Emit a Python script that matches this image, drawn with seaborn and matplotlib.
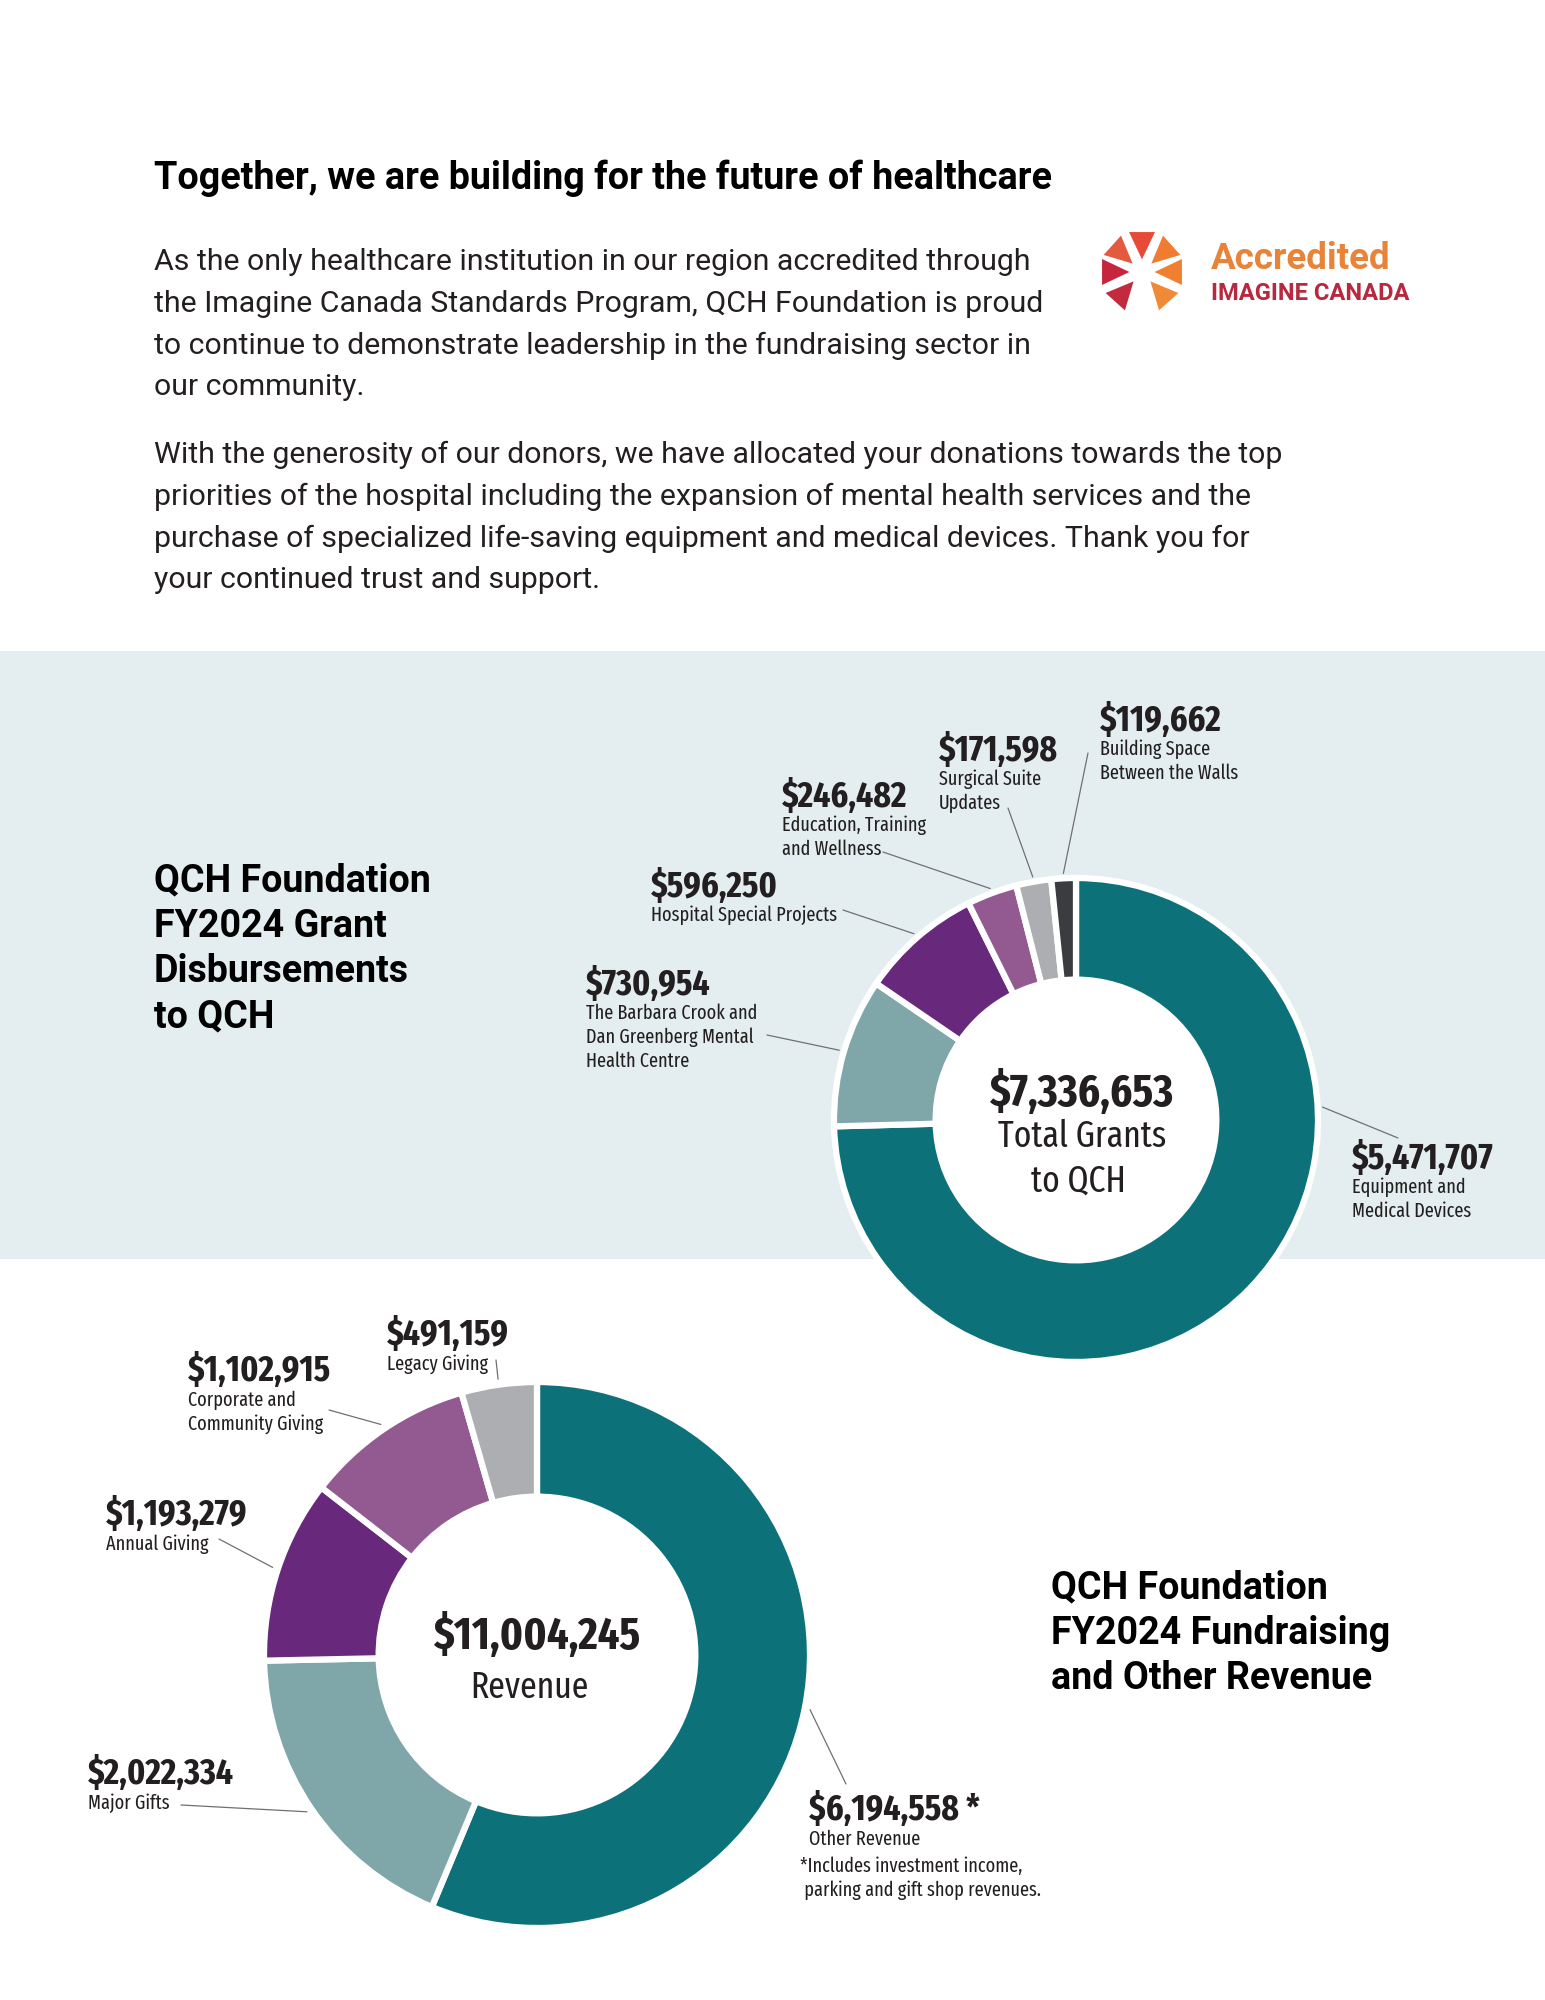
import numpy as np
import matplotlib
matplotlib.use('Agg')
import matplotlib.pyplot as plt
from matplotlib import font_manager
from matplotlib.patches import Polygon, Rectangle, Circle
import seaborn as sns

sns.set_theme(style='white')
plt.rcParams['font.family'] = ['Roboto', 'DejaVu Sans']

# ---- data ----
grant_names = ['Equipment and\nMedical Devices',
               'The Barbara Crook and\nDan Greenberg Mental\nHealth Centre',
               'Hospital Special Projects',
               'Education, Training\nand Wellness',
               'Surgical Suite\nUpdates',
               'Building Space\nBetween the Walls']
grant_values = [5471707, 730954, 596250, 246482, 171598, 119662]
grant_total = 7336653

revenue_names = ['Other Revenue', 'Major Gifts', 'Annual Giving',
                 'Corporate and\nCommunity Giving', 'Legacy Giving']
revenue_values = [6194558, 2022334, 1193279, 1102915, 491159]
revenue_marks = [' *', '', '', '', '']
revenue_total = 11004245
revenue_note = ['*Includes investment income,', ' parking and gift shop revenues.']

grant_colors = sns.color_palette(['#0c7178', '#7fa6a9', '#68297c', '#935a92', '#acaeb1', '#3b3c3f'])
revenue_colors = sns.color_palette(['#0c7178', '#7fa6a9', '#68297c', '#935a92', '#acaeb1'])

title = 'Together, we are building for the future of healthcare'
para1 = ['As the only healthcare institution in our region accredited through',
         'the Imagine Canada Standards Program, QCH Foundation is proud',
         'to continue to demonstrate leadership in the fundraising sector in',
         'our community.']
para2 = ['With the generosity of our donors, we have allocated your donations towards the top',
         'priorities of the hospital including the expansion of mental health services and the',
         'purchase of specialized life-saving equipment and medical devices. Thank you for',
         'your continued trust and support.']
grant_heading = ['QCH Foundation', 'FY2024 Grant', 'Disbursements', 'to QCH']
revenue_heading = ['QCH Foundation', 'FY2024 Fundraising', 'and Other Revenue']

# ---- layout (pixels, y down) ----
W, H = 1545, 2000
ink = '#231f20'
band_color = '#e4eef0'
top_c, top_r = (1076, 1120), 242
bot_c, bot_r = (537, 1655), 273
ring_frac = 0.42
dy = 3  # vertical nudge for text

# label anchors (amount position) and leader line outer ends, same order as data
grant_label_xy = [(1352, 1156), (586, 982), (651, 884), (782, 794), (939, 748), (1100, 718)]
grant_leader_xy = [(1398, 1138), (767, 1035), (843, 910), (883, 852), (1008, 808), (1088, 753)]
grant_leader_override = {0: 87}
revenue_label_xy = [(809, 1807), (88, 1771), (106, 1512), (188, 1368), (387, 1332)]
revenue_leader_xy = [(846, 1784), (181, 1805), (219, 1539), (329, 1410), (496, 1360)]


def pick_condensed(bold):
    best = None
    for f in font_manager.fontManager.ttflist:
        nm = (f.name + ' ' + f.fname).lower()
        st = str(f.stretch).lower()
        if not ('condensed' in nm or 'narrow' in nm or 'condensed' in st):
            continue
        if f.style != 'normal' or 'italic' in nm or 'oblique' in nm:
            continue
        w = f.weight if isinstance(f.weight, (int, float)) else font_manager.weight_dict.get(f.weight, 400)
        score = abs(w - (700 if bold else 400))
        if 'extracondensed' in nm.replace('-', '').replace(' ', ''):
            score -= 30
        if best is None or score < best[0]:
            best = (score, f.fname)
    if best is None:
        return font_manager.FontProperties(family='Roboto', weight='bold' if bold else 'normal')
    return font_manager.FontProperties(fname=best[1])


cond_bold = pick_condensed(True)
cond_reg = pick_condensed(False)
rob_bold = font_manager.FontProperties(family=['Roboto', 'DejaVu Sans'], weight='bold')
rob_reg = font_manager.FontProperties(family=['Roboto', 'DejaVu Sans'], weight='normal')

fig = plt.figure(figsize=(W / 100, H / 100), dpi=100)
fig.patch.set_facecolor('white')
page = fig.add_axes([0, 0, 1, 1])
renderer = fig.canvas.get_renderer()


def fit(s, fp, target):
    t = page.text(0, 0, s, fontproperties=fp, fontsize=10)
    w = t.get_window_extent(renderer).width
    t.remove()
    return 10 * target / w


title_size = fit(title, rob_bold, 901)
body_size = fit(para1[0], rob_reg, 877)
head_size = fit('Disbursements', rob_bold, 256)
amount_size = fit('$730,954', cond_bold, 125)
sub_size = fit('Hospital Special Projects', cond_reg, 186)
center_amt_size = fit('$7,336,653', cond_bold, 186)
center_word_size = fit('Total Grants', cond_reg, 170)
acc_size = fit('Accredited', rob_bold, 180)
ic_size = fit('IMAGINE CANADA', rob_bold, 199)


def txt(x, y, s, fp, size, color=ink, ha='left'):
    page.text(x, y + dy, s, fontproperties=fp, fontsize=size, color=color, ha=ha, va='center', zorder=5)


# band behind first chart
page.add_patch(Rectangle((0, 651), W, 608, color=band_color, zorder=0, lw=0))

# header text
txt(154, 175, title, rob_bold, title_size, color='black')
for i, line in enumerate(para1):
    txt(154, 259 + i * 41.8, line, rob_reg, body_size)
for i, line in enumerate(para2):
    txt(154, 452 + i * 41.8, line, rob_reg, body_size)

# accreditation logo
logo_c, logo_r = (1142, 272), 42
logo_angles = [90, 138, 42, 180, 0, 228, 312]
logo_colors = ['#e84a3a', '#e35a3e', '#ef7c32', '#c6263d', '#ef8030', '#c42a3d', '#f08a36']
for a, col in zip(logo_angles, logo_colors):
    pts = []
    for ang, rr in [(a, 0.3), (a + 18, 1.0), (a - 18, 1.0)]:
        th = np.deg2rad(ang)
        pts.append((logo_c[0] + rr * logo_r * np.cos(th), logo_c[1] - rr * logo_r * np.sin(th)))
    page.add_patch(Polygon(pts, closed=True, color=col, lw=0, zorder=3))
txt(1211, 256, 'Accredited', rob_bold, acc_size, color='#e8833a')
txt(1211, 290, 'IMAGINE CANADA', rob_bold, ic_size, color='#b8283e')

# section headings
for i, line in enumerate(grant_heading):
    txt(154, 878 + i * 45.3, line, rob_bold, head_size, color='black')
for i, line in enumerate(revenue_heading):
    txt(1051, 1585 + i * 45.3, line, rob_bold, head_size, color='black')


def donut(values, colors, center, radius):
    page.add_patch(Circle(center, radius * (1 - ring_frac), color='white', lw=0, zorder=0.5))
    page.pie(values, colors=colors, center=center, radius=radius,
             startangle=-90, counterclock=True,
             wedgeprops=dict(width=radius * ring_frac, edgecolor='white', linewidth=4.5))


def leaders(values, center, radius, ends, override):
    fr = np.array(values, dtype=float) / np.sum(values)
    mid = (np.cumsum(fr) - fr / 2) * 360
    for i, (lx, ly) in enumerate(ends):
        phi = np.deg2rad(override.get(i, mid[i]))
        r = radius * 1.02
        px = center[0] + r * np.sin(phi)
        py = center[1] - r * np.cos(phi)
        page.plot([lx, px], [ly, py], color='#707070', lw=0.9, zorder=4)


def labels(values, names, marks, xy, first_gap):
    for v, nm, mk, (x, y) in zip(values, names, marks, xy):
        txt(x, y, f'${v:,}{mk}', cond_bold, amount_size)
        for j, line in enumerate(nm.split('\n')):
            txt(x, y + first_gap + j * 24, line, cond_reg, sub_size)


donut(grant_values, grant_colors, top_c, top_r)
donut(revenue_values, revenue_colors, bot_c, bot_r)
leaders(grant_values, top_c, top_r, grant_leader_xy, grant_leader_override)
leaders(revenue_values, bot_c, bot_r, revenue_leader_xy, {})
labels(grant_values, grant_names, [''] * len(grant_values), grant_label_xy, 28)
labels(revenue_values, revenue_names, revenue_marks, revenue_label_xy, 29)

# footnote under Other Revenue
for j, line in enumerate(revenue_note):
    txt(800, 1863 + j * 24, line, cond_reg, sub_size)

# centre texts
txt(top_c[0] + 5, 1090, f'${grant_total:,}', cond_bold, center_amt_size, ha='center')
txt(top_c[0] + 6, 1134, 'Total Grants', cond_reg, center_word_size, ha='center')
txt(top_c[0] + 2, 1178, 'to QCH', cond_reg, center_word_size, ha='center')
txt(bot_c[0], 1633, f'${revenue_total:,}', cond_bold, center_amt_size, ha='center')
txt(bot_c[0] - 8, 1685, 'Revenue', cond_reg, center_word_size, ha='center')

page.set_xlim(0, W)
page.set_ylim(H, 0)
page.set_aspect('auto')
page.axis('off')

fig.savefig('out.png', dpi=100, facecolor='white')
